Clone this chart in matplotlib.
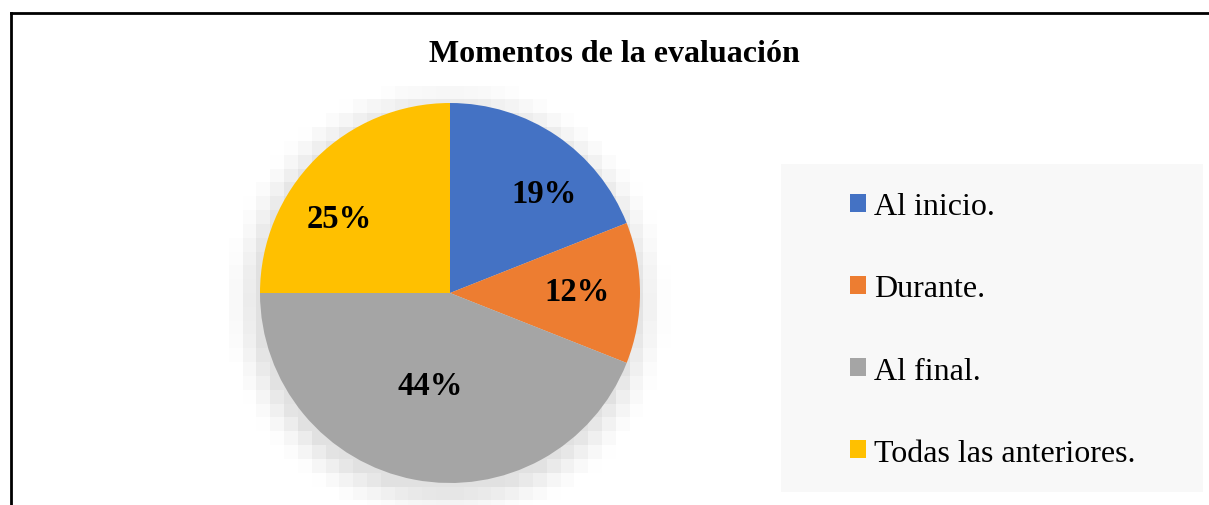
import numpy as np
import matplotlib
matplotlib.use("Agg")
import matplotlib.pyplot as plt
from matplotlib.patches import Rectangle
from matplotlib.lines import Line2D

# data
labels = ["Al inicio.", "Durante.", "Al final.", "Todas las anteriores."]
shares = [19, 12, 44, 25]
colours = ["#4472C4", "#ED7D31", "#A5A5A5", "#FFC000"]
title = "Momentos de la evaluación"

# where each % label sits (fraction of radius, angle in degrees)
lab_r = [0.72, 0.67, 0.50, 0.70]
lab_ang = [46.5, 0.5, -102.0, 146.0]

W, H = 1209, 506
fig = plt.figure(figsize=(W / 100, H / 100), dpi=100)
plt.rcParams['font.family'] = ['Liberation Serif', 'DejaVu Serif']

R = 190.0        # pie radius in px
cx, cy = 450, 294  # pie centre, px from top
half = 1.2 * R
ax = fig.add_axes([(cx - half) / W, (H - cy - half) / H, 2 * half / W, 2 * half / H])

# soft blocky shadow round the pie
cell = 14.0 / R
g = np.arange(-1.2, 1.2 + cell, cell)
gx, gy = np.meshgrid(g, g)
d = np.hypot(gx, gy + 0.03)
sh = np.clip((1.2 - d) / 0.2, 0, 1) ** 1.5 * 0.12
rgba = np.zeros(gx.shape + (4,))
rgba[..., 3] = sh
ax.imshow(rgba, extent=(-1.2 - cell / 2, 1.2 + cell / 2, -1.2 - cell / 2, 1.2 + cell / 2),
          origin='lower', interpolation='nearest', zorder=0)

wedges, _ = ax.pie(shares, colors=colours, startangle=90, counterclock=False,
                   radius=1.0, wedgeprops=dict(linewidth=0))
for w in wedges:
    w.set_zorder(2)
ax.set_xlim(-1.2, 1.2)
ax.set_ylim(-1.2, 1.2)
ax.set_aspect('equal')
ax.axis('off')

for s, r, a in zip(shares, lab_r, lab_ang):
    t = np.radians(a)
    ax.text(r * np.cos(t), r * np.sin(t), f"{s}%", ha='center', va='center',
            fontsize=23.5, fontweight='bold', zorder=3)

fig.text(614 / W, 1 - 55 / H, title, ha='center', va='center',
         fontsize=23, fontweight='bold')

# legend panel
fig.patches.append(Rectangle((781 / W, 1 - 493 / H), (1203 - 781) / W, (493 - 165) / H,
                             transform=fig.transFigure, facecolor='#F8F8F8',
                             edgecolor='none', zorder=0))
fig.legend(wedges, labels, loc='center left', bbox_to_anchor=(834 / W, 1 - 331 / H),
           frameon=False, fontsize=23, handlelength=0.5, handleheight=0.5,
           handletextpad=0.25, labelspacing=1.66, borderpad=0)

# outer border (left and top only are visible)
fig.lines.append(Line2D([10.5 / W, 10.5 / W], [0, 1 - 14 / H], transform=fig.transFigure,
                        color='black', lw=2))
fig.lines.append(Line2D([10.5 / W, 1], [1 - 14 / H, 1 - 14 / H], transform=fig.transFigure,
                        color='black', lw=2))

fig.savefig("out.png", dpi=100)
